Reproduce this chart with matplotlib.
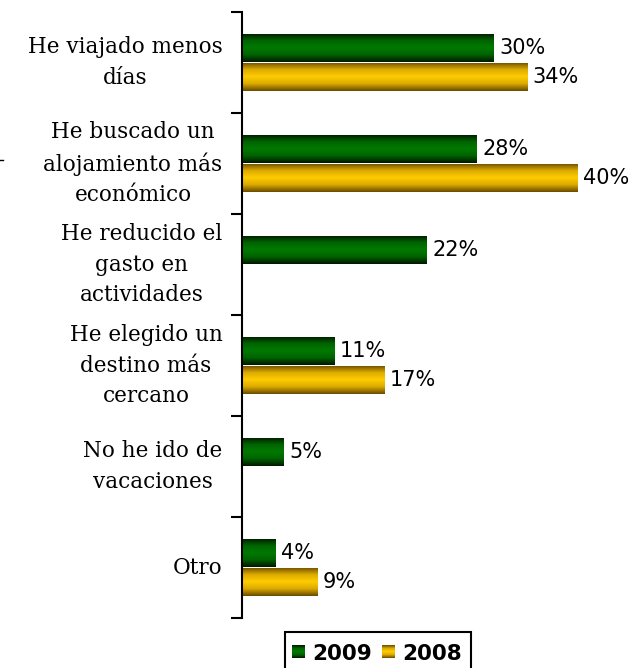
import numpy as np
import matplotlib
matplotlib.use("Agg")
import matplotlib.pyplot as plt
from matplotlib.colors import LinearSegmentedColormap
from matplotlib.patches import Rectangle
from matplotlib.lines import Line2D

categories = ["He viajado menos\ndías",
              "He buscado un\nalojamiento más\neconómico",
              "He reducido el\ngasto en\nactividades",
              "He elegido un\ndestino más\ncercano",
              "No he ido de\nvacaciones",
              "Otro"]
v2009 = [30, 28, 22, 11, 5, 4]
v2008 = [34, 40, None, 17, None, 9]
series_names = ["2009", "2008"]

green_cmap = LinearSegmentedColormap.from_list(
    "g", ["#001800", "#006400", "#007a00", "#006400", "#001800"])
gold_cmap = LinearSegmentedColormap.from_list(
    "y", ["#6a4c00", "#dcaa00", "#ffcc00", "#dcaa00", "#6a4c00"])

fig = plt.figure(figsize=(6.33, 6.68), dpi=100)
ax = fig.add_axes([242/633, 1-618/668, (628-242)/633, (618-12)/668])

bh = 0.285
grad = np.linspace(0, 1, 64).reshape(-1, 1)
y = np.arange(len(categories))


def grad_bar(yc, w, cmap):
    y0, y1 = yc - bh/2, yc + bh/2
    rect = Rectangle((0, y0), w, bh, facecolor="none", edgecolor="none")
    ax.add_patch(rect)
    im = ax.imshow(grad, extent=[0, w, y1, y0], aspect="auto", cmap=cmap,
                   interpolation="bilinear", zorder=2)
    im.set_clip_path(rect)


for i in range(len(categories)):
    if v2009[i] is not None:
        yc = y[i] - bh/2
        grad_bar(yc, v2009[i], green_cmap)
        ax.text(v2009[i] + 0.65, yc, f"{v2009[i]}%", va="center", ha="left",
                fontsize=15, family="DejaVu Sans", color="#000000")
    if v2008[i] is not None:
        yc = y[i] + bh/2
        grad_bar(yc, v2008[i], gold_cmap)
        ax.text(v2008[i] + 0.65, yc, f"{v2008[i]}%", va="center", ha="left",
                fontsize=15, family="DejaVu Sans", color="#000000")

ax.set_xlim(0, 46)
ax.set_ylim(len(categories) - 0.5, -0.5)

for s in ["top", "right", "bottom"]:
    ax.spines[s].set_visible(False)
ax.spines["left"].set_linewidth(1.5)
ax.set_xticks([])
ax.set_yticks(np.arange(-0.5, len(categories)), labels=[""] * (len(categories) + 1))
ax.tick_params(axis="y", which="major", length=8, width=1.5, direction="out")
ax.set_yticks(y, labels=categories, minor=True)
ax.tick_params(axis="y", which="minor", length=0, pad=14)
for lab in ax.get_yticklabels(minor=True):
    lab.set_family("DejaVu Serif")
    lab.set_fontsize(15.5)
    lab.set_multialignment("center")
    lab.set_linespacing(1.5)
    lab.set_verticalalignment("center")

# small stray mark at the far left edge
fig.add_artist(Line2D([0, 3/633], [1-160/668, 1-160/668], color="black", lw=1))

# legend
from matplotlib.legend_handler import HandlerBase


class GradHandler(HandlerBase):
    def __init__(self, cmap):
        super().__init__()
        self.cmap = cmap

    def create_artists(self, legend, orig_handle, xdescent, ydescent, width,
                       height, fontsize, trans):
        from matplotlib.image import BboxImage
        from matplotlib.transforms import Bbox, TransformedBbox
        s = min(width, height) * 0.9
        x0 = width - s
        y0 = (height - s) / 2
        bb = Bbox.from_bounds(x0 - xdescent, y0 - ydescent, s, s)
        tbb = TransformedBbox(bb, trans)
        img = BboxImage(tbb, cmap=self.cmap, interpolation="bilinear")
        img.set_data(grad)
        return [img]


h1 = Rectangle((0, 0), 1, 1)
h2 = Rectangle((0, 0), 1, 1)
leg = fig.legend([h1, h2], series_names, loc="center",
                 bbox_to_anchor=(376.5/633, 1-653.5/668), ncol=2,
                 handler_map={h1: GradHandler(green_cmap), h2: GradHandler(gold_cmap)},
                 prop={"family": "DejaVu Sans", "weight": "bold", "size": 15.5},
                 frameon=False,
                 handlelength=0.65, handletextpad=0.35, columnspacing=0.4,
                 borderpad=0.0, borderaxespad=0)
fig.add_artist(Rectangle((285/633, 1-672/668), (471-285)/633, 40/668,
                         transform=fig.transFigure, facecolor="none",
                         edgecolor="black", lw=1.5))

fig.savefig("out.png", dpi=100)
